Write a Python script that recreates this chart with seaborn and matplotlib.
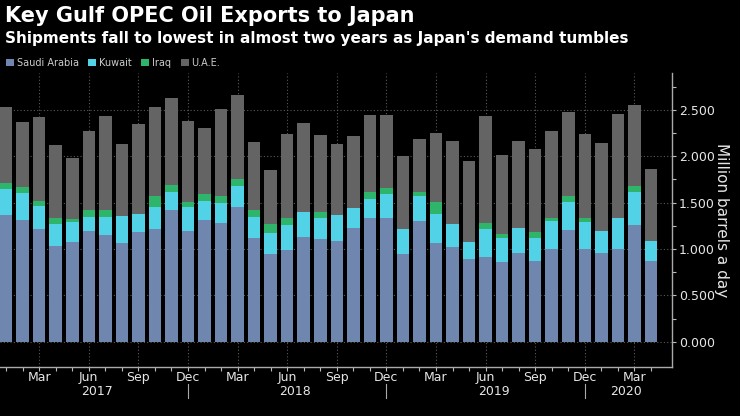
import pandas as pd
import numpy as np
import matplotlib
matplotlib.use('Agg')
import matplotlib.pyplot as plt
import matplotlib.transforms as mtransforms
from matplotlib.patches import Patch
import seaborn as sns

# Monthly exports to Japan, million barrels a day
months = pd.date_range('2017-01-01', periods=40, freq='MS').strftime('%Y-%m').tolist()

saudi = [1.37, 1.31, 1.22, 1.03, 1.08, 1.19, 1.15, 1.07, 1.18, 1.22, 1.42, 1.20,
         1.31, 1.28, 1.45, 1.12, 0.95, 0.99, 1.13, 1.11, 1.09, 1.23, 1.34, 1.34,
         0.95, 1.30, 1.07, 1.02, 0.89, 0.92, 0.86, 0.96, 0.87, 1.00, 1.21, 1.00,
         0.96, 1.00, 1.26, 0.87]
kuwait = [0.28, 0.29, 0.24, 0.24, 0.21, 0.16, 0.20, 0.29, 0.20, 0.23, 0.20, 0.25,
          0.21, 0.22, 0.23, 0.23, 0.22, 0.27, 0.27, 0.22, 0.28, 0.21, 0.20, 0.25,
          0.27, 0.27, 0.31, 0.25, 0.19, 0.30, 0.26, 0.27, 0.25, 0.30, 0.30, 0.29,
          0.23, 0.34, 0.36, 0.22]
iraq = [0.06, 0.07, 0.06, 0.07, 0.03, 0.07, 0.07, 0.00, 0.00, 0.12, 0.07, 0.06,
        0.07, 0.07, 0.07, 0.07, 0.10, 0.07, 0.00, 0.07, 0.00, 0.00, 0.07, 0.07,
        0.00, 0.04, 0.13, 0.00, 0.00, 0.06, 0.04, 0.00, 0.06, 0.03, 0.06, 0.04,
        0.00, 0.00, 0.06, 0.00]
uae = [0.82, 0.70, 0.90, 0.78, 0.66, 0.85, 1.01, 0.77, 0.97, 0.96, 0.94, 0.87,
       0.71, 0.94, 0.91, 0.73, 0.58, 0.91, 0.96, 0.83, 0.76, 0.78, 0.83, 0.79,
       0.78, 0.58, 0.74, 0.89, 0.87, 1.15, 0.85, 0.93, 0.90, 0.94, 0.91, 0.91,
       0.95, 1.12, 0.87, 0.77]

countries = ['Saudi Arabia', 'Kuwait', 'Iraq', 'U.A.E.']
colors = ['#6f87ae', '#52d2e6', '#2fb56b', '#646464']

df = pd.DataFrame({'month': months, 'Saudi Arabia': saudi, 'Kuwait': kuwait,
                   'Iraq': iraq, 'U.A.E.': uae})
# cumulative tops so each layer can be drawn over the one above it
cum = df[countries].cumsum(axis=1)

bg = '#000000'
txt = '#e6e6e6'
grid = '#5a5a5a'

fig = plt.figure(figsize=(7.4, 4.16), dpi=100, facecolor=bg)
ax = fig.add_axes([0.0, 0.118, 0.908, 0.707], facecolor=bg)

for c, col in reversed(list(zip(countries, colors))):
    sns.barplot(x=df['month'], y=cum[c], color=col, saturation=1, width=0.76,
                errorbar=None, linewidth=0, ax=ax, zorder=3)

ax.set_xlim(-0.37, 40.27)
ax.set_ylim(-0.27, 2.9)

# y axis on the right
ax.yaxis.tick_right()
ax.set_yticks(np.arange(0, 2.51, 0.5))
ax.set_yticks(np.arange(0, 2.9, 0.25), minor=True)
ax.set_yticklabels([f'{v:.3f}' for v in np.arange(0, 2.51, 0.5)])
ax.yaxis.set_label_position('right')
ax.set_ylabel('Million barrels a day', rotation=270, labelpad=10, color=txt, fontsize=11)
ax.set_xlabel('')

# x ticks: quarters labelled, months as minor ticks
qpos = list(range(2, 40, 3))
ax.set_xticks(qpos)
ax.set_xticklabels([pd.Timestamp(months[i] + '-01').strftime('%b') for i in qpos])
ax.set_xticks(range(40), minor=True)

ax.tick_params(axis='both', which='both', colors='#bbbbbb', labelcolor=txt,
               labelsize=9, length=3, width=0.8)
ax.tick_params(axis='x', which='major', pad=0)
ax.tick_params(axis='y', which='major', pad=2)

for s in ['top', 'left']:
    ax.spines[s].set_visible(False)
for s in ['bottom', 'right']:
    ax.spines[s].set_color('#aaaaaa')
    ax.spines[s].set_linewidth(1)

ax.grid(True, which='major', axis='both', color=grid, linestyle=(0, (1, 2)),
        linewidth=0.8, zorder=0)
ax.set_axisbelow(True)

# year labels and separators under the month labels
trans = mtransforms.blended_transform_factory(ax.transData, ax.transAxes)
years = {'2017': 5.5, '2018': 17.5, '2019': 29.5, '2020': 37.5}
for y, pos in years.items():
    ax.text(pos, -0.063, y, transform=trans, ha='center', va='top',
            color=txt, fontsize=9)
for pos in [11, 23, 35]:
    ax.plot([pos, pos], [-0.058, -0.105], transform=trans, color='#aaaaaa',
            linewidth=0.8, clip_on=False)

# titles
fig.text(0.007, 0.985, 'Key Gulf OPEC Oil Exports to Japan', color='white',
         fontsize=15, fontweight='bold', ha='left', va='top')
fig.text(0.007, 0.925, "Shipments fall to lowest in almost two years as Japan's demand tumbles",
         color='white', fontsize=11, fontweight='bold', ha='left', va='top')

handles = [Patch(facecolor=c, edgecolor='none', label=n) for n, c in zip(countries, colors)]
fig.legend(handles=handles, loc='upper left', bbox_to_anchor=(0.0, 0.875), ncol=4,
           frameon=False, fontsize=7, labelcolor='#cccccc', handlelength=0.8,
           handleheight=0.8, handletextpad=0.3, columnspacing=1.0, borderaxespad=0.2)

fig.savefig('out.png', dpi=100, facecolor=bg)
